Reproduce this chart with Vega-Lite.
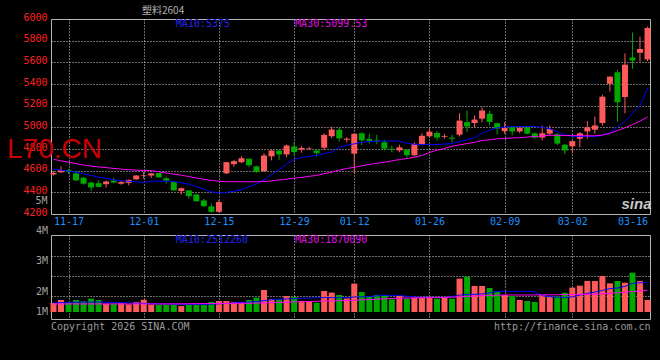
{
  "$schema": "https://vega.github.io/schema/vega-lite/v6.json",
  "background": "#000000",
  "padding": {"left": 6, "top": 5, "right": 12, "bottom": 32},
  "title": {"text": "塑料2604", "anchor": "start", "frame": "group", "orient": "top", "offset": -4.4, "baseline": "top", "dx": 91, "font": "Noto Sans CJK SC", "fontSize": 10, "fontWeight": "normal", "color": "#B0B0B0"},
  "spacing": 21,
  "bounds": "flush",
  "data": {"values": [
    {"d":"2025-11-13","o":4565,"h":4595,"l":4555,"c":4580,"m10":4615,"m30":4705,"v":770000,"vm10":780000,"vm30":690000},
    {"d":"2025-11-14","o":4585,"h":4640,"l":4580,"c":4605,"m10":4605,"m30":4690,"v":1030000,"vm10":800000,"vm30":690000},
    {"d":"2025-11-17","o":4605,"h":4612,"l":4570,"c":4590,"m10":4595,"m30":4678,"v":860000,"vm10":820000,"vm30":690000},
    {"d":"2025-11-18","o":4575,"h":4600,"l":4505,"c":4510,"m10":4586,"m30":4665,"v":1030000,"vm10":840000,"vm30":690000},
    {"d":"2025-11-19","o":4535,"h":4540,"l":4470,"c":4480,"m10":4570,"m30":4652,"v":920000,"vm10":850000,"vm30":690000},
    {"d":"2025-11-20","o":4490,"h":4500,"l":4410,"c":4445,"m10":4556,"m30":4642,"v":1140000,"vm10":860000,"vm30":690000},
    {"d":"2025-11-21","o":4485,"h":4510,"l":4445,"c":4450,"m10":4540,"m30":4635,"v":1030000,"vm10":860000,"vm30":690000},
    {"d":"2025-11-24","o":4475,"h":4510,"l":4445,"c":4500,"m10":4530,"m30":4628,"v":710000,"vm10":850000,"vm30":690000},
    {"d":"2025-11-25","o":4508,"h":4535,"l":4485,"c":4490,"m10":4515,"m30":4621,"v":710000,"vm10":820000,"vm30":690000},
    {"d":"2025-11-26","o":4480,"h":4505,"l":4470,"c":4495,"m10":4508,"m30":4614,"v":750000,"vm10":800000,"vm30":690000},
    {"d":"2025-11-27","o":4487,"h":4520,"l":4465,"c":4515,"m10":4502,"m30":4609,"v":660000,"vm10":780000,"vm30":690000},
    {"d":"2025-11-28","o":4520,"h":4560,"l":4515,"c":4555,"m10":4498,"m30":4605,"v":860000,"vm10":760000,"vm30":690000},
    {"d":"2025-12-01","o":4555,"h":4590,"l":4525,"c":4560,"m10":4490,"m30":4602,"v":1050000,"vm10":740000,"vm30":690000},
    {"d":"2025-12-02","o":4555,"h":4580,"l":4535,"c":4575,"m10":4503,"m30":4600,"v":630000,"vm10":720000,"vm30":690000},
    {"d":"2025-12-03","o":4578,"h":4580,"l":4535,"c":4538,"m10":4503,"m30":4590,"v":630000,"vm10":700000,"vm30":690000},
    {"d":"2025-12-04","o":4530,"h":4545,"l":4480,"c":4508,"m10":4503,"m30":4578,"v":630000,"vm10":680000,"vm30":690000},
    {"d":"2025-12-05","o":4495,"h":4500,"l":4415,"c":4418,"m10":4500,"m30":4568,"v":630000,"vm10":670000,"vm30":700000},
    {"d":"2025-12-08","o":4412,"h":4445,"l":4380,"c":4438,"m10":4488,"m30":4558,"v":510000,"vm10":660000,"vm30":700000},
    {"d":"2025-12-09","o":4418,"h":4420,"l":4340,"c":4365,"m10":4475,"m30":4546,"v":630000,"vm10":660000,"vm30":710000},
    {"d":"2025-12-10","o":4380,"h":4385,"l":4315,"c":4318,"m10":4455,"m30":4533,"v":630000,"vm10":660000,"vm30":710000},
    {"d":"2025-12-11","o":4325,"h":4340,"l":4265,"c":4272,"m10":4430,"m30":4520,"v":630000,"vm10":660000,"vm30":720000},
    {"d":"2025-12-12","o":4270,"h":4295,"l":4212,"c":4220,"m10":4405,"m30":4510,"v":860000,"vm10":670000,"vm30":720000},
    {"d":"2025-12-15","o":4220,"h":4330,"l":4215,"c":4310,"m10":4393,"m30":4502,"v":940000,"vm10":700000,"vm30":730000},
    {"d":"2025-12-16","o":4575,"h":4680,"l":4570,"c":4678,"m10":4400,"m30":4498,"v":940000,"vm10":740000,"vm30":730000},
    {"d":"2025-12-17","o":4660,"h":4700,"l":4635,"c":4688,"m10":4410,"m30":4498,"v":860000,"vm10":780000,"vm30":740000},
    {"d":"2025-12-18","o":4678,"h":4735,"l":4670,"c":4715,"m10":4425,"m30":4498,"v":860000,"vm10":820000,"vm30":740000},
    {"d":"2025-12-19","o":4710,"h":4712,"l":4632,"c":4650,"m10":4452,"m30":4497,"v":1030000,"vm10":860000,"vm30":750000},
    {"d":"2025-12-22","o":4640,"h":4645,"l":4580,"c":4588,"m10":4478,"m30":4498,"v":1230000,"vm10":900000,"vm30":760000},
    {"d":"2025-12-23","o":4595,"h":4762,"l":4590,"c":4740,"m10":4515,"m30":4500,"v":1890000,"vm10":980000,"vm30":780000},
    {"d":"2025-12-24","o":4733,"h":4790,"l":4695,"c":4786,"m10":4565,"m30":4505,"v":1110000,"vm10":1050000,"vm30":800000},
    {"d":"2025-12-25","o":4786,"h":4790,"l":4700,"c":4750,"m10":4610,"m30":4515,"v":1090000,"vm10":1090000,"vm30":820000},
    {"d":"2025-12-26","o":4750,"h":4840,"l":4725,"c":4832,"m10":4660,"m30":4522,"v":1370000,"vm10":1120000,"vm30":840000},
    {"d":"2025-12-29","o":4823,"h":4865,"l":4740,"c":4772,"m10":4705,"m30":4531,"v":1290000,"vm10":1150000,"vm30":860000},
    {"d":"2025-12-30","o":4795,"h":4825,"l":4765,"c":4810,"m10":4722,"m30":4538,"v":940000,"vm10":1180000,"vm30":880000},
    {"d":"2025-12-31","o":4800,"h":4820,"l":4790,"c":4805,"m10":4732,"m30":4548,"v":860000,"vm10":1200000,"vm30":900000},
    {"d":"2026-01-05","o":4787,"h":4790,"l":4730,"c":4762,"m10":4740,"m30":4556,"v":800000,"vm10":1220000,"vm30":920000},
    {"d":"2026-01-06","o":4812,"h":4945,"l":4790,"c":4930,"m10":4758,"m30":4572,"v":1800000,"vm10":1230000,"vm30":940000},
    {"d":"2026-01-07","o":4918,"h":5008,"l":4900,"c":4980,"m10":4773,"m30":4586,"v":1660000,"vm10":1230000,"vm30":950000},
    {"d":"2026-01-08","o":4977,"h":5000,"l":4870,"c":4898,"m10":4815,"m30":4605,"v":1460000,"vm10":1220000,"vm30":970000},
    {"d":"2026-01-09","o":4885,"h":4910,"l":4860,"c":4895,"m10":4835,"m30":4620,"v":1170000,"vm10":1220000,"vm30":990000},
    {"d":"2026-01-12","o":4757,"h":4945,"l":4570,"c":4940,"m10":4848,"m30":4632,"v":2430000,"vm10":1290000,"vm30":1010000},
    {"d":"2026-01-13","o":4945,"h":4955,"l":4835,"c":4880,"m10":4862,"m30":4645,"v":1710000,"vm10":1300000,"vm30":1040000},
    {"d":"2026-01-14","o":4893,"h":4940,"l":4850,"c":4875,"m10":4868,"m30":4657,"v":1310000,"vm10":1320000,"vm30":1070000},
    {"d":"2026-01-15","o":4880,"h":4930,"l":4845,"c":4872,"m10":4872,"m30":4668,"v":1460000,"vm10":1380000,"vm30":1100000},
    {"d":"2026-01-16","o":4862,"h":4885,"l":4785,"c":4803,"m10":4874,"m30":4678,"v":1460000,"vm10":1430000,"vm30":1130000},
    {"d":"2026-01-19","o":4802,"h":4830,"l":4770,"c":4795,"m10":4875,"m30":4690,"v":1090000,"vm10":1430000,"vm30":1160000},
    {"d":"2026-01-20","o":4787,"h":4840,"l":4770,"c":4815,"m10":4872,"m30":4703,"v":1370000,"vm10":1420000,"vm30":1180000},
    {"d":"2026-01-21","o":4793,"h":4800,"l":4718,"c":4742,"m10":4853,"m30":4712,"v":1140000,"vm10":1350000,"vm30":1200000},
    {"d":"2026-01-22","o":4742,"h":4860,"l":4735,"c":4848,"m10":4843,"m30":4725,"v":1230000,"vm10":1300000,"vm30":1210000},
    {"d":"2026-01-23","o":4840,"h":4945,"l":4835,"c":4922,"m10":4841,"m30":4740,"v":1230000,"vm10":1260000,"vm30":1220000},
    {"d":"2026-01-26","o":4917,"h":4987,"l":4905,"c":4960,"m10":4841,"m30":4768,"v":1310000,"vm10":1260000,"vm30":1230000},
    {"d":"2026-01-27","o":4948,"h":4965,"l":4880,"c":4905,"m10":4841,"m30":4790,"v":1140000,"vm10":1260000,"vm30":1240000},
    {"d":"2026-01-28","o":4913,"h":4940,"l":4895,"c":4920,"m10":4846,"m30":4805,"v":1230000,"vm10":1260000,"vm30":1250000},
    {"d":"2026-01-29","o":4905,"h":4930,"l":4860,"c":4895,"m10":4850,"m30":4825,"v":1140000,"vm10":1300000,"vm30":1270000},
    {"d":"2026-01-30","o":4932,"h":5130,"l":4915,"c":5062,"m10":4870,"m30":4838,"v":2860000,"vm10":1450000,"vm30":1300000},
    {"d":"2026-02-02","o":5048,"h":5155,"l":4955,"c":5008,"m10":4885,"m30":4850,"v":3030000,"vm10":1510000,"vm30":1340000},
    {"d":"2026-02-03","o":5040,"h":5110,"l":5000,"c":5072,"m10":4905,"m30":4862,"v":2230000,"vm10":1510000,"vm30":1370000},
    {"d":"2026-02-04","o":5080,"h":5185,"l":5047,"c":5155,"m10":4945,"m30":4878,"v":2230000,"vm10":1550000,"vm30":1400000},
    {"d":"2026-02-05","o":5125,"h":5155,"l":5017,"c":5050,"m10":4975,"m30":4886,"v":2060000,"vm10":1650000,"vm30":1420000},
    {"d":"2026-02-06","o":5038,"h":5045,"l":4935,"c":4988,"m10":4995,"m30":4894,"v":1740000,"vm10":1760000,"vm30":1440000},
    {"d":"2026-02-09","o":4965,"h":5047,"l":4940,"c":4995,"m10":5002,"m30":4898,"v":1460000,"vm10":1770000,"vm30":1450000},
    {"d":"2026-02-10","o":5000,"h":5010,"l":4925,"c":4962,"m10":5006,"m30":4902,"v":1370000,"vm10":1770000,"vm30":1460000},
    {"d":"2026-02-11","o":4962,"h":5000,"l":4945,"c":4995,"m10":5007,"m30":4905,"v":1030000,"vm10":1770000,"vm30":1460000},
    {"d":"2026-02-12","o":5000,"h":5010,"l":4935,"c":4942,"m10":5008,"m30":4910,"v":940000,"vm10":1770000,"vm30":1460000},
    {"d":"2026-02-13","o":4945,"h":4950,"l":4895,"c":4905,"m10":5007,"m30":4915,"v":860000,"vm10":1720000,"vm30":1460000},
    {"d":"2026-02-24","o":4905,"h":5017,"l":4880,"c":4945,"m10":5000,"m30":4920,"v":1460000,"vm10":1400000,"vm30":1470000},
    {"d":"2026-02-25","o":4942,"h":5015,"l":4925,"c":4985,"m10":4986,"m30":4927,"v":1310000,"vm10":1310000,"vm30":1470000},
    {"d":"2026-02-26","o":4935,"h":4945,"l":4835,"c":4850,"m10":4960,"m30":4926,"v":1370000,"vm10":1280000,"vm30":1480000},
    {"d":"2026-02-27","o":4840,"h":4845,"l":4755,"c":4787,"m10":4930,"m30":4925,"v":1660000,"vm10":1230000,"vm30":1490000},
    {"d":"2026-03-02","o":4825,"h":4880,"l":4760,"c":4872,"m10":4917,"m30":4924,"v":2090000,"vm10":1300000,"vm30":1500000},
    {"d":"2026-03-03","o":4895,"h":4955,"l":4815,"c":4945,"m10":4915,"m30":4923,"v":2260000,"vm10":1450000,"vm30":1510000},
    {"d":"2026-03-04","o":4962,"h":5057,"l":4895,"c":5000,"m10":4915,"m30":4922,"v":2660000,"vm10":1600000,"vm30":1520000},
    {"d":"2026-03-05","o":4978,"h":5100,"l":4940,"c":5017,"m10":4915,"m30":4922,"v":2660000,"vm10":1700000,"vm30":1530000},
    {"d":"2026-03-06","o":5040,"h":5302,"l":5017,"c":5283,"m10":4925,"m30":4928,"v":3090000,"vm10":1850000,"vm30":1550000},
    {"d":"2026-03-09","o":5402,"h":5470,"l":5330,"c":5468,"m10":4950,"m30":4945,"v":2460000,"vm10":2000000,"vm30":1600000},
    {"d":"2026-03-10","o":5508,"h":5533,"l":5050,"c":5232,"m10":5005,"m30":4970,"v":2660000,"vm10":2050000,"vm30":1650000},
    {"d":"2026-03-11","o":5280,"h":5683,"l":5130,"c":5578,"m10":5055,"m30":4995,"v":2510000,"vm10":2200000,"vm30":1700000},
    {"d":"2026-03-12","o":5645,"h":5877,"l":5540,"c":5617,"m10":5125,"m30":5026,"v":3370000,"vm10":2450000,"vm30":1750000},
    {"d":"2026-03-13","o":5688,"h":5837,"l":5606,"c":5723,"m10":5200,"m30":5058,"v":2660000,"vm10":2510000,"vm30":1800000},
    {"d":"2026-03-16","o":5627,"h":5929,"l":5610,"c":5917,"m10":5360,"m30":5095,"v":1030000,"vm10":2510000,"vm30":1870000}
  ]},
  "vconcat": [
    {
      "width": 599,
      "height": 195,
      "title": {"text": "L70.CN", "orient": "top", "anchor": "start", "frame": "group", "offset": 0, "dx": -44, "dy": 174, "baseline": "alphabetic", "font": "Liberation Sans", "fontSize": 28, "fontWeight": "normal", "color": "#CC0000"},
      "encoding": {
        "x": {"field": "d", "type": "ordinal", "scale": {"type": "point", "padding": 0.33},
          "axis": {"title": null, "values": ["2025-11-17","2025-12-01","2025-12-15","2025-12-29","2026-01-12","2026-01-26","2026-02-09","2026-03-02","2026-03-16"],
            "labelExpr": "substring(datum.value, 5, 10)", "labelColor": "#1E90FF", "labelAngle": 0, "labelPadding": 2, "labelBaseline": "top", "labelFlush": 4, "labelOverlap": false,
            "grid": true, "gridOpacity": {"condition": {"test": "datum.value == '2026-03-16'", "value": 0}, "value": 1}}}
      },
      "layer": [
        {
          "mark": {"type": "rule", "strokeWidth": 1},
          "encoding": {
            "y": {"field": "l", "type": "quantitative", "scale": {"domain": [4200, 6000], "nice": false, "zero": false},
              "axis": {"title": null, "values": [4200, 4310, 4400, 4600, 4800, 5000, 5200, 5400, 5600, 5800, 6000], "tickCount": 30, "format": "d", "labelOverlap": false,
                "labelExpr": "datum.value == 4310 ? '5M' : datum.label", "labelOffset": -2, "labelPadding": 4,
                "labelColor": {"condition": {"test": "datum.value == 4310", "value": "#A0A0A0"}, "value": "#FF2020"},
                "grid": true, "gridOpacity": {"condition": {"test": "datum.value == 4310 || datum.value == 4200 || datum.value == 6000", "value": 0}, "value": 1}}},
            "y2": {"field": "h"},
            "color": {"condition": {"test": "datum.c >= datum.o", "value": "#FF5A5A"}, "value": "#00A800"}
          }
        },
        {
          "mark": {"type": "bar", "size": 6},
          "encoding": {
            "y": {"field": "o", "type": "quantitative"},
            "y2": {"field": "c"},
            "color": {"condition": {"test": "datum.c >= datum.o", "value": "#FF5A5A"}, "value": "#00A800"}
          }
        },
        {"mark": {"type": "line", "color": "#0000FF", "strokeWidth": 1}, "encoding": {"y": {"field": "m10", "type": "quantitative"}}},
        {"mark": {"type": "line", "color": "#FF00FF", "strokeWidth": 1}, "encoding": {"y": {"field": "m30", "type": "quantitative"}}},
        {
          "data": {"values": [{"t": "MA10:5375"}]},
          "mark": {"type": "text", "align": "left", "baseline": "top", "dx": 2, "font": "DejaVu Sans Mono", "fontSize": 10, "color": "#2424F0"},
          "encoding": {"x": {"datum": "2025-12-05", "type": "ordinal"}, "y": {"datum": 6000, "type": "quantitative"}, "text": {"field": "t"}}
        },
        {
          "data": {"values": [{"t": "MA30:5099.53"}]},
          "mark": {"type": "text", "align": "left", "baseline": "top", "dx": 1, "font": "DejaVu Sans Mono", "fontSize": 10, "color": "#E010E0"},
          "encoding": {"x": {"datum": "2025-12-29", "type": "ordinal"}, "y": {"datum": 6000, "type": "quantitative"}, "text": {"field": "t"}}
        },
        {
          "data": {"values": [{"t": "sina"}]},
          "mark": {"type": "text", "align": "center", "baseline": "alphabetic", "dx": 4, "font": "Liberation Sans", "fontSize": 15, "fontStyle": "italic", "fontWeight": "bold", "color": "#C8C8C8"},
          "encoding": {"x": {"datum": "2026-03-12", "type": "ordinal"}, "y": {"datum": 4250, "type": "quantitative"}, "text": {"field": "t"}}
        }
      ]
    },
    {
      "width": 599,
      "height": 84,
      "title": {"text": "Copyright 2026 SINA.COM", "orient": "bottom", "anchor": "start", "frame": "group", "offset": -9.5, "baseline": "top", "font": "DejaVu Sans Mono", "fontSize": 10, "fontWeight": "normal", "color": "#9A9A9A"},
      "encoding": {
        "x": {"field": "d", "type": "ordinal", "scale": {"type": "point", "padding": 0.33},
          "axis": {"labels": false, "values": ["2025-11-17","2025-12-01","2025-12-15","2025-12-29","2026-01-12","2026-01-26","2026-02-09","2026-03-02"],
            "grid": true, "title": "http://finance.sina.com.cn", "titleX": 599, "titleY": 2, "titleAlign": "right", "titleAnchor": "end", "titleBaseline": "top",
            "titleFont": "DejaVu Sans Mono", "titleFontSize": 10, "titleFontWeight": "normal", "titleColor": "#9A9A9A"}}
      },
      "layer": [
        {
          "mark": {"type": "bar", "size": 6},
          "encoding": {
            "y": {"field": "v", "type": "quantitative", "scale": {"domain": [-600000, 6600000], "nice": false, "zero": false},
              "axis": {"title": null, "values": [70000, 1370000, 1780000, 3090000, 4400000, 4800000, 6600000], "tickCount": 30, "labelOverlap": false,
                "labelExpr": "datum.value == 70000 ? '1M' : datum.value == 1780000 ? '2M' : datum.value == 4400000 ? '3M' : datum.value == 6600000 ? '4M' : ''",
                "labelColor": "#A0A0A0", "labelPadding": 3.5,
                "labelBaseline": {"condition": {"test": "datum.value == 6600000", "value": "bottom"}, "value": "middle"},
                "grid": true, "gridOpacity": {"condition": {"test": "datum.value == 1370000 || datum.value == 3090000 || datum.value == 4800000", "value": 1}, "value": 0}}},
            "y2": {"datum": 0},
            "color": {"condition": {"test": "datum.c >= datum.o", "value": "#FF5A5A"}, "value": "#00A800"}
          }
        },
        {"mark": {"type": "line", "color": "#0000FF", "strokeWidth": 1}, "encoding": {"y": {"field": "vm10", "type": "quantitative"}}},
        {"mark": {"type": "line", "color": "#FF00FF", "strokeWidth": 1}, "encoding": {"y": {"field": "vm30", "type": "quantitative"}}},
        {
          "data": {"values": [{"t": "MA10:2512260"}]},
          "mark": {"type": "text", "align": "left", "baseline": "top", "dx": 2, "font": "DejaVu Sans Mono", "fontSize": 10, "color": "#2424F0"},
          "encoding": {"x": {"datum": "2025-12-05", "type": "ordinal"}, "y": {"datum": 6600000, "type": "quantitative"}, "text": {"field": "t"}}
        },
        {
          "data": {"values": [{"t": "MA30:1870090"}]},
          "mark": {"type": "text", "align": "left", "baseline": "top", "dx": 1, "font": "DejaVu Sans Mono", "fontSize": 10, "color": "#E010E0"},
          "encoding": {"x": {"datum": "2025-12-29", "type": "ordinal"}, "y": {"datum": 6600000, "type": "quantitative"}, "text": {"field": "t"}}
        }
      ]
    }
  ],
  "config": {
    "view": {"stroke": "#B4B4B4", "strokeWidth": 1},
    "axis": {"labelFont": "DejaVu Sans Mono", "labelFontSize": 10, "ticks": false, "tickSize": 0, "domain": false, "gridDash": [1, 2], "gridColor": "#D8D8D8", "gridWidth": 1, "labelOverlap": false}
  }
}
